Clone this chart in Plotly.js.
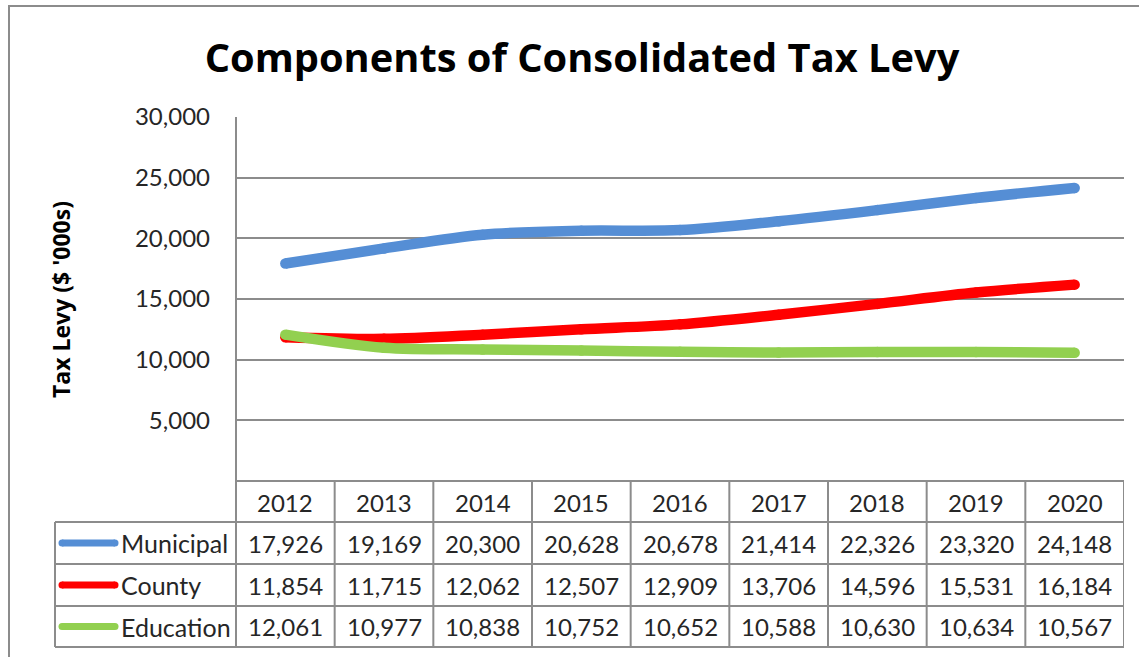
<!DOCTYPE html>
<html>
<head>
<meta charset="utf-8">
<script src="https://cdn.plot.ly/plotly-3.0.1.min.js"></script>
<style>html,body{margin:0;padding:0;background:#fff;}#chart{width:1139px;height:657px;}</style>
</head>
<body>
<div id="chart"></div>
<script>
// ---- data ----
const years = ['2012','2013','2014','2015','2016','2017','2018','2019','2020'];
const municipal = [17926,19169,20300,20628,20678,21414,22326,23320,24148];
const county    = [11854,11715,12062,12507,12909,13706,14596,15531,16184];
const education = [12061,10977,10838,10752,10652,10588,10630,10634,10567];
const seriesNames = ['Municipal','County','Education'];
const seriesColors = ['#558ED5','#FF0000','#92D050'];
const yTicks = [5000,10000,15000,20000,25000,30000];

// ---- geometry helpers (pixel -> paper, paper = full figure) ----
const W = 1139, H = 657;
const px = x => x / W;
const py = y => 1 - y / H;
const plotL = 236, plotR = 1124, plotT = 117, plotB = 481;
const rowLines = [522, 564, 606, 647];
const tableL = 55;
const gray = '#8C8C8C';
const txtColor = '#262626';
const FONT = 'Lato, "Open Sans", sans-serif';
const BOLD = '"Open Sans", Lato, sans-serif';

const allSeries = [municipal, county, education];
const traces = allSeries.map((vals, i) => ({
  x: years, y: vals, type: 'scatter', mode: 'lines+markers',
  name: seriesNames[i],
  line: {color: seriesColors[i], width: 10.5, shape: 'spline', smoothing: 0.9},
  marker: {color: seriesColors[i], size: 10.5},
  hoverinfo: 'x+y+name', showlegend: false, cliponaxis: false
}));

const shapes = [];
const annotations = [];
const hline = (x0, x1, y, xref) => shapes.push({type:'line', xref: xref||'paper', yref:'paper', x0, x1, y0: py(y), y1: py(y), line:{color: gray, width: 2}});
// outer chart border (top & left visible)
shapes.push({type:'rect', xref:'paper', yref:'paper', x0: px(9), x1: px(1160), y0: py(6), y1: py(700), line:{color: gray, width: 2}, fillcolor:'rgba(0,0,0,0)'});
// plot left axis line extended through table header and rows
shapes.push({type:'line', xref:'paper', yref:'paper', x0: px(plotL), x1: px(plotL), y0: py(plotT), y1: py(647), line:{color: gray, width: 2}});
// table top (axis bottom)
hline(px(plotL), px(plotR), plotB);
// row lines
rowLines.forEach(y => hline(px(tableL), px(plotR), y));
// left edge of legend column
shapes.push({type:'line', xref:'paper', yref:'paper', x0: px(tableL), x1: px(tableL), y0: py(522), y1: py(647), line:{color: gray, width: 2}});
// column dividers tied to category axis
years.forEach((yr, i) => {
  shapes.push({type:'line', xref:'x', yref:'paper', x0: i + 0.5, x1: i + 0.5, y0: py(plotB), y1: py(647), line:{color: gray, width: 2}});
});

// header labels
const headerY = py(502);
years.forEach((yr, i) => annotations.push({xref:'x', yref:'paper', x: i, y: headerY, text: yr, showarrow:false, xanchor:'center', yanchor:'middle', font:{family: FONT, size: 24, color: txtColor}}));
// data rows
const rowCenters = [543, 585, 626.5];
allSeries.forEach((vals, r) => {
  vals.forEach((v, i) => annotations.push({xref:'x', yref:'paper', x: i, y: py(rowCenters[r]), text: v.toLocaleString('en-US'), showarrow:false, xanchor:'center', yanchor:'middle', font:{family: FONT, size: 24, color: txtColor}}));
  // legend key
  annotations.push({xref:'paper', yref:'paper', x: px(119), y: py(rowCenters[r]), text: seriesNames[r], showarrow:false, xanchor:'left', yanchor:'middle', font:{family: FONT, size: 25, color: txtColor}});
  const cy = rowCenters[r];
  shapes.push({type:'line', xref:'paper', yref:'paper', x0: px(62), x1: px(115), y0: py(cy), y1: py(cy), line:{color: seriesColors[r], width: 7}});
  shapes.push({type:'circle', xref:'paper', yref:'paper', x0: px(58.5), x1: px(65.5), y0: py(cy+3.5), y1: py(cy-3.5), fillcolor: seriesColors[r], line:{width:0}});
  shapes.push({type:'circle', xref:'paper', yref:'paper', x0: px(111.5), x1: px(118.5), y0: py(cy+3.5), y1: py(cy-3.5), fillcolor: seriesColors[r], line:{width:0}});
});

// y axis title
annotations.push({xref:'paper', yref:'paper', x: px(61), y: py(300), text: "Tax Levy ($ '000s)", textangle: -90, showarrow:false, xanchor:'center', yanchor:'middle', font:{family: BOLD, size: 23, color: '#000', weight: 'bold'}});

const layout = {
  width: W, height: H,
  margin: {l:0, r:0, t:0, b:0, pad:0},
  paper_bgcolor: '#fff', plot_bgcolor: '#fff',
  showlegend: false,
  title: {text: 'Components of Consolidated Tax Levy', x: px(582), y: py(58), xref:'paper', yref:'paper', xanchor:'center', yanchor:'middle', font:{family: BOLD, size: 39.8, color:'#000', weight:'bold'}},
  xaxis: {type:'category', domain: [px(plotL), px(plotR)], range: [-0.5, 8.5], showticklabels:false, showgrid:false, zeroline:false, showline:false, fixedrange:true},
  yaxis: {domain: [py(plotB), py(plotT)], range: [0, 30000], tickvals: yTicks, tickformat: ',d', showgrid:true, gridcolor: gray, gridwidth: 2, zeroline:false, showline:false, ticks:'', ticklabelstandoff: 25, tickfont:{family: FONT, size: 24, color: txtColor}, fixedrange:true},
  shapes, annotations
};

Plotly.newPlot('chart', traces, layout, {displayModeBar:false, staticPlot:true});
</script>
</body>
</html>
